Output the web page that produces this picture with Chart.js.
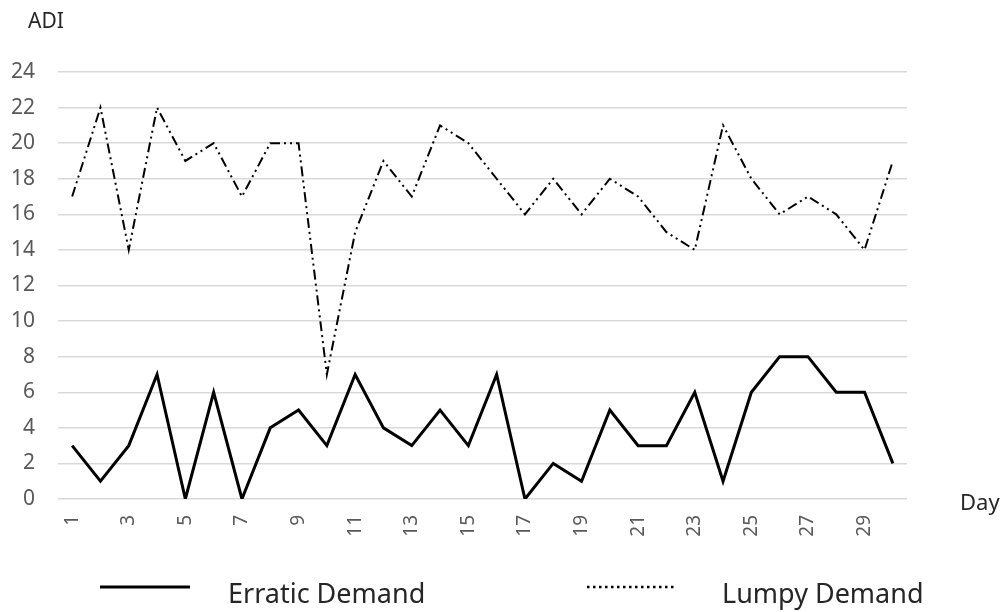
<!DOCTYPE html>
<html>
<head>
<meta charset="utf-8">
<script src="https://cdn.jsdelivr.net/npm/chart.js@4"></script>
<style>
  html, body { margin: 0; padding: 0; background: #fff; }
  #wrap { width: 1005px; height: 612px; }
</style>
</head>
<body>
<div id="wrap"><canvas id="adiChart"></canvas></div>
<script>
// données
const days = ["1", "2", "3", "4", "5", "6", "7", "8", "9", "10",
    "11", "12", "13", "14", "15", "16", "17", "18", "19", "20",
    "21", "22", "23", "24", "25", "26", "27", "28", "29", "30"];
const erratic = [3, 1, 3, 7, 0, 6, 0, 4, 5, 3, 7, 4, 3, 5, 3, 7, 0, 2, 1, 5, 3, 3, 6, 1, 6, 8, 8, 6, 6, 2];
const lumpy = [17, 22, 14, 22, 19, 20, 17, 20, 20, 7, 15, 19, 17, 21, 20, 18, 16, 18, 16, 18, 17, 15, 14, 21, 18, 16, 17, 16, 14, 19];
const seriesNames = ["Erratic Demand", "Lumpy Demand"];

const FONT = "'Noto Sans', sans-serif";
Chart.defaults.font.family = FONT;

// titres d'axes + légende dessinés à la main
const extras = {
    id: "extras",
    afterDraw(chart) {
        const ctx = chart.ctx;
        ctx.save();
        ctx.fillStyle = "#262626";
        ctx.textBaseline = "alphabetic";
        ctx.font = "21px " + FONT;
        ctx.fillText("ADI", 28, 28);
        ctx.font = "22px " + FONT;
        ctx.fillText("Day", 960, 510);

        // légende
        const items = [
            { x1: 100, x2: 190, tx: 228, w: 3, dash: [] },
            { x1: 587, x2: 677, tx: 722, w: 2.5, dash: [2.5, 3.5] }
        ];
        items.forEach((it, i) => {
            ctx.beginPath();
            ctx.strokeStyle = "#000";
            ctx.lineWidth = it.w;
            ctx.setLineDash(it.dash);
            ctx.moveTo(it.x1, 587);
            ctx.lineTo(it.x2, 587);
            ctx.stroke();
            ctx.setLineDash([]);
            ctx.font = "27px " + FONT;
            ctx.fillText(seriesNames[i], it.tx, 603);
        });
        ctx.restore();
    }
};

new Chart(document.getElementById("adiChart"), {
    type: "line",
    data: {
        labels: days,
        datasets: [
            {
                label: seriesNames[0],
                data: erratic,
                borderColor: "#000",
                borderWidth: 3,
                pointRadius: 0,
                tension: 0
            },
            {
                label: seriesNames[1],
                data: lumpy,
                borderColor: "#000",
                borderWidth: 2,
                borderDash: [10, 4, 2, 4, 2, 4],
                pointRadius: 0,
                tension: 0
            }
        ]
    },
    options: {
        responsive: true,
        maintainAspectRatio: false,
        animation: false,
        layout: { padding: { top: 72, right: 98, bottom: 0, left: 0 } },
        plugins: {
            legend: { display: false },
            tooltip: { enabled: false }
        },
        scales: {
            x: {
                offset: true,
                grid: { display: false, drawTicks: false },
                border: { display: false },
                afterFit: s => { s.height = 113; },
                ticks: {
                    autoSkip: false,
                    minRotation: 90,
                    maxRotation: 90,
                    padding: 16,
                    color: "#595959",
                    font: { size: 19 },
                    callback: function (v, i) { return i % 2 === 0 ? days[i] : ""; }
                }
            },
            y: {
                min: 0,
                max: 24,
                grid: { color: "#d9d9d9", lineWidth: 1.5, drawTicks: false },
                border: { display: false },
                afterFit: s => { s.width = 58; },
                ticks: {
                    stepSize: 2,
                    padding: 23,
                    color: "#595959",
                    font: { size: 21 }
                }
            }
        }
    },
    plugins: [extras]
});
</script>
</body>
</html>
